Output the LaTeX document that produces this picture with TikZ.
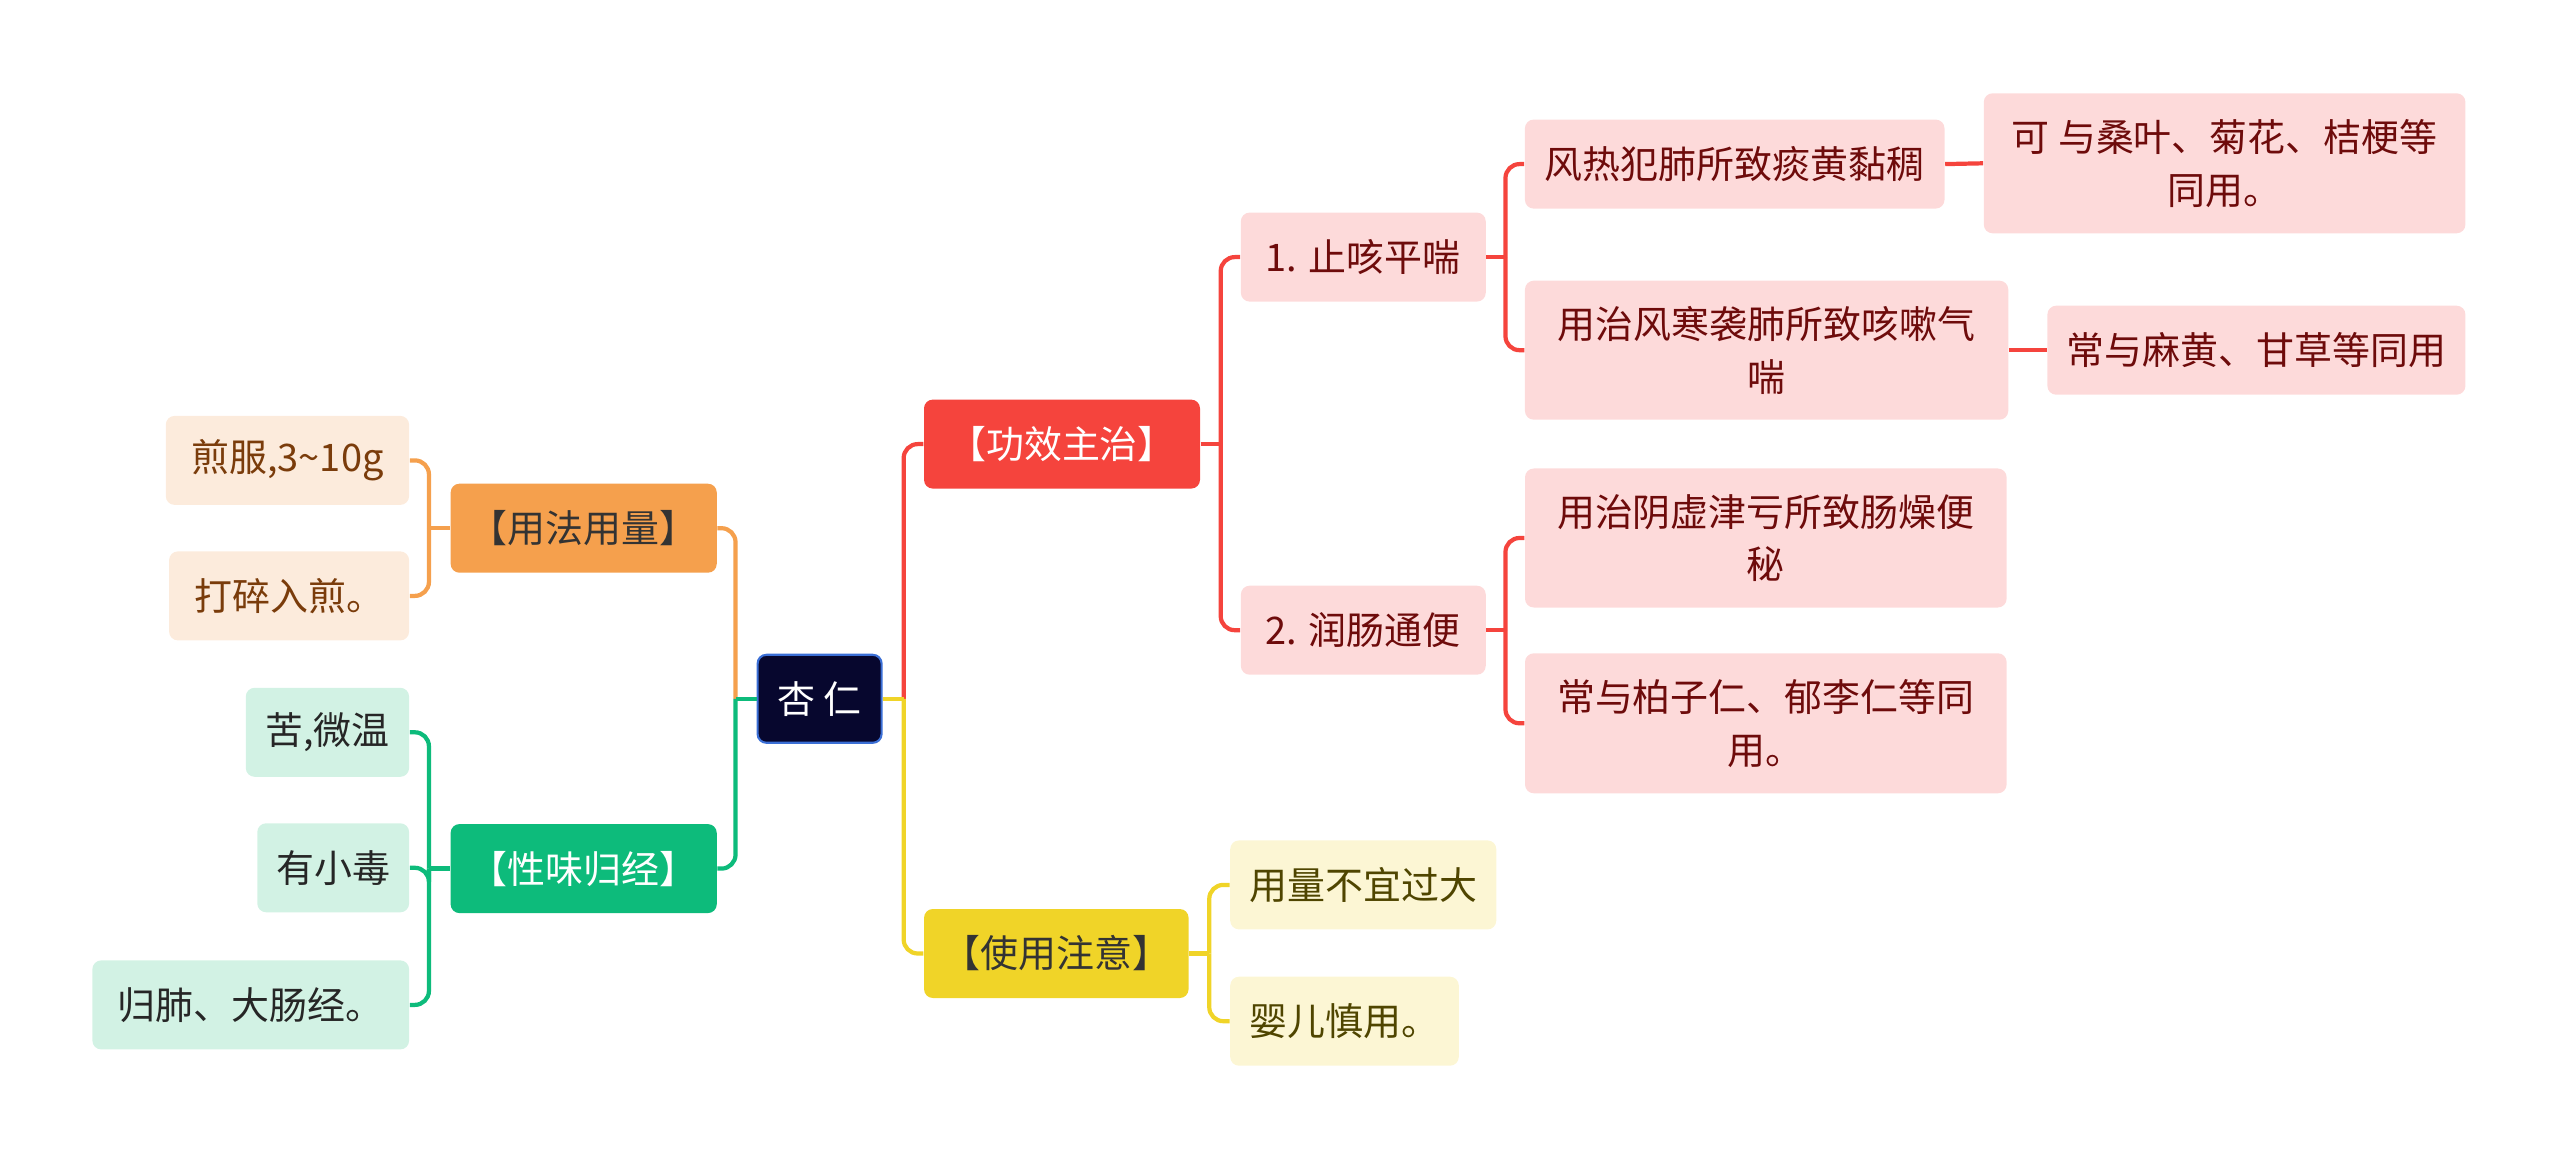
\documentclass[tikz,border=0pt]{standalone}
\usepackage{fontspec}
\setmainfont{Noto Sans CJK SC}
\usetikzlibrary{positioning}

\definecolor{rootfill}{HTML}{07072E}
\definecolor{rootline}{HTML}{3B6FD6}
\definecolor{redmain}{HTML}{F5443D}
\definecolor{redsoft}{HTML}{FDDADA}
\definecolor{redtext}{HTML}{6E0B0B}
\definecolor{yelmain}{HTML}{F0D428}
\definecolor{yelsoft}{HTML}{FCF6D4}
\definecolor{yeltext}{HTML}{4F4500}
\definecolor{orgmain}{HTML}{F5A04D}
\definecolor{orgsoft}{HTML}{FCEBDC}
\definecolor{orgtext}{HTML}{7A3C0B}
\definecolor{grnmain}{HTML}{0DBB7B}
\definecolor{grnsoft}{HTML}{D2F2E4}

\begin{document}
\begin{tikzpicture}[
		every node/.style={font=\fontsize{10.8pt}{15pt}\selectfont, align=center, inner sep=0pt},
		box/.style={rounded corners=2.5pt, minimum height=0.89cm},
		rootbox/.style={box, fill=rootfill, draw=rootline, line width=0.6pt, text=white, minimum width=1.24cm, minimum height=0.88cm},
		redbig/.style={box, fill=redmain, text=white},
		redsub/.style={box, fill=redsoft, text=redtext},
		yelbig/.style={box, fill=yelmain, text=black!80},
		yelsub/.style={box, fill=yelsoft, text=yeltext},
		orgbig/.style={box, fill=orgmain, text=black!80},
		orgsub/.style={box, fill=orgsoft, text=orgtext},
		grnbig/.style={box, fill=grnmain, text=white},
		grnsub/.style={box, fill=grnsoft, text=black!85},
		link/.style={line width=1.2pt, rounded corners=4pt}
	]
		\useasboundingbox (0,0) rectangle (25.6,-11.61);

		% centre
		\node[rootbox] (root) at (8.196,-6.988) {杏 仁};

		% main branches
		\node[redbig, minimum width=2.76cm] (gxzz) at (10.62,-4.441) {【功效主治】};
		\node[yelbig, minimum width=2.645cm] (syzy) at (10.563,-9.535) {【使用注意】};
		\node[orgbig, minimum width=2.661cm] (yfyl) at (5.837,-5.282) {【用法用量】};
		\node[grnbig, minimum width=2.661cm] (xwgj) at (5.837,-8.686) {【性味归经】};

		% 功效主治
		\node[redsub, minimum width=2.449cm] (zkpc) at (13.633,-2.571) {1. 止咳平喘};
		\node[redsub, minimum width=2.449cm] (rctb) at (13.633,-6.302) {2. 润肠通便};
		\node[redsub, minimum width=4.196cm] (frfc) at (17.347,-1.641) {风热犯肺所致痰黄黏稠};
		\node[redsub, minimum width=4.833cm, minimum height=1.39cm] (fhxf) at (17.666,-3.502) {用治风寒袭肺所致咳嗽气\\喘};
		\node[redsub, minimum width=4.816cm, minimum height=1.40cm] (sangye) at (22.246,-1.633) {可 与桑叶、菊花、桔梗等\\同用。};
		\node[redsub, minimum width=4.18cm] (mahuang) at (22.564,-3.502) {常与麻黄、甘草等同用};
		\node[redsub, minimum width=4.816cm, minimum height=1.39cm] (yxjk) at (17.658,-5.380) {用治阴虚津亏所致肠燥便\\秘};
		\node[redsub, minimum width=4.816cm, minimum height=1.40cm] (bzr) at (17.658,-7.233) {常与柏子仁、郁李仁等同\\用。};

		% 使用注意
		\node[yelsub, minimum width=2.661cm, anchor=west] (ylbd) at (12.295,-8.849) {用量不宜过大};
		\node[yelsub, minimum width=2.286cm, anchor=west] (yesy) at (12.295,-10.212) {婴儿慎用。};

		% 用法用量
		\node[orgsub, minimum width=2.433cm, anchor=east] (jianfu) at (4.098,-4.604) {煎服,3\textasciitilde10g};
		\node[orgsub, minimum width=2.40cm, anchor=east] (dasui) at (4.098,-5.959) {打碎入煎。};

		% 性味归经
		\node[grnsub, minimum width=1.633cm, anchor=east] (kuwei) at (4.098,-7.323) {苦,微温};
		\node[grnsub, minimum width=1.518cm, anchor=east] (xiaodu) at (4.098,-8.678) {有小毒};
		\node[grnsub, minimum width=3.167cm, anchor=east] (guifei) at (4.098,-10.049) {归肺、大肠经。};

		% links: stub, then one bar per child
		\draw[link, redmain] (root.east) ++(0.21,0) |- (gxzz.west);
		\draw[link, redmain] (gxzz.east) -- ++(0.2,0);
		\draw[link, redmain] (gxzz.east) ++(0.2,0) |- (zkpc.west);
		\draw[link, redmain] (gxzz.east) ++(0.2,0) |- (rctb.west);
		\draw[link, redmain] (zkpc.east) -- ++(0.19,0);
		\draw[link, redmain] (zkpc.east) ++(0.19,0) |- (frfc.west);
		\draw[link, redmain] (zkpc.east) ++(0.19,0) |- (fhxf.west);
		\draw[link, redmain] (frfc.east) -- (sangye.west);
		\draw[link, redmain] (fhxf.east) -- (mahuang.west);
		\draw[link, redmain] (rctb.east) -- ++(0.19,0);
		\draw[link, redmain] (rctb.east) ++(0.19,0) |- (yxjk.west);
		\draw[link, redmain] (rctb.east) ++(0.19,0) |- (bzr.west);

		\draw[link, yelmain] (root.east) -- ++(0.21,0);
		\draw[link, yelmain] (root.east) ++(0.21,0) |- (syzy.west);
		\draw[link, yelmain] (syzy.east) -- ++(0.2,0);
		\draw[link, yelmain] (syzy.east) ++(0.2,0) |- (ylbd.west);
		\draw[link, yelmain] (syzy.east) ++(0.2,0) |- (yesy.west);

		\draw[link, orgmain] (root.west) ++(-0.21,0) |- (yfyl.east);
		\draw[link, orgmain] (yfyl.west) -- ++(-0.21,0);
		\draw[link, orgmain] (yfyl.west) ++(-0.21,0) |- (jianfu.east);
		\draw[link, orgmain] (yfyl.west) ++(-0.21,0) |- (dasui.east);

		\draw[link, grnmain] (root.west) -- ++(-0.21,0);
		\draw[link, grnmain] (root.west) ++(-0.21,0) |- (xwgj.east);
		\draw[link, grnmain] (xwgj.west) -- ++(-0.21,0);
		\draw[link, grnmain] (xwgj.west) ++(-0.21,0) |- (kuwei.east);
		\draw[link, grnmain] (xwgj.west) ++(-0.21,0) |- (xiaodu.east);
		\draw[link, grnmain] (xwgj.west) ++(-0.21,0) |- (guifei.east);
	\end{tikzpicture}
\end{document}
